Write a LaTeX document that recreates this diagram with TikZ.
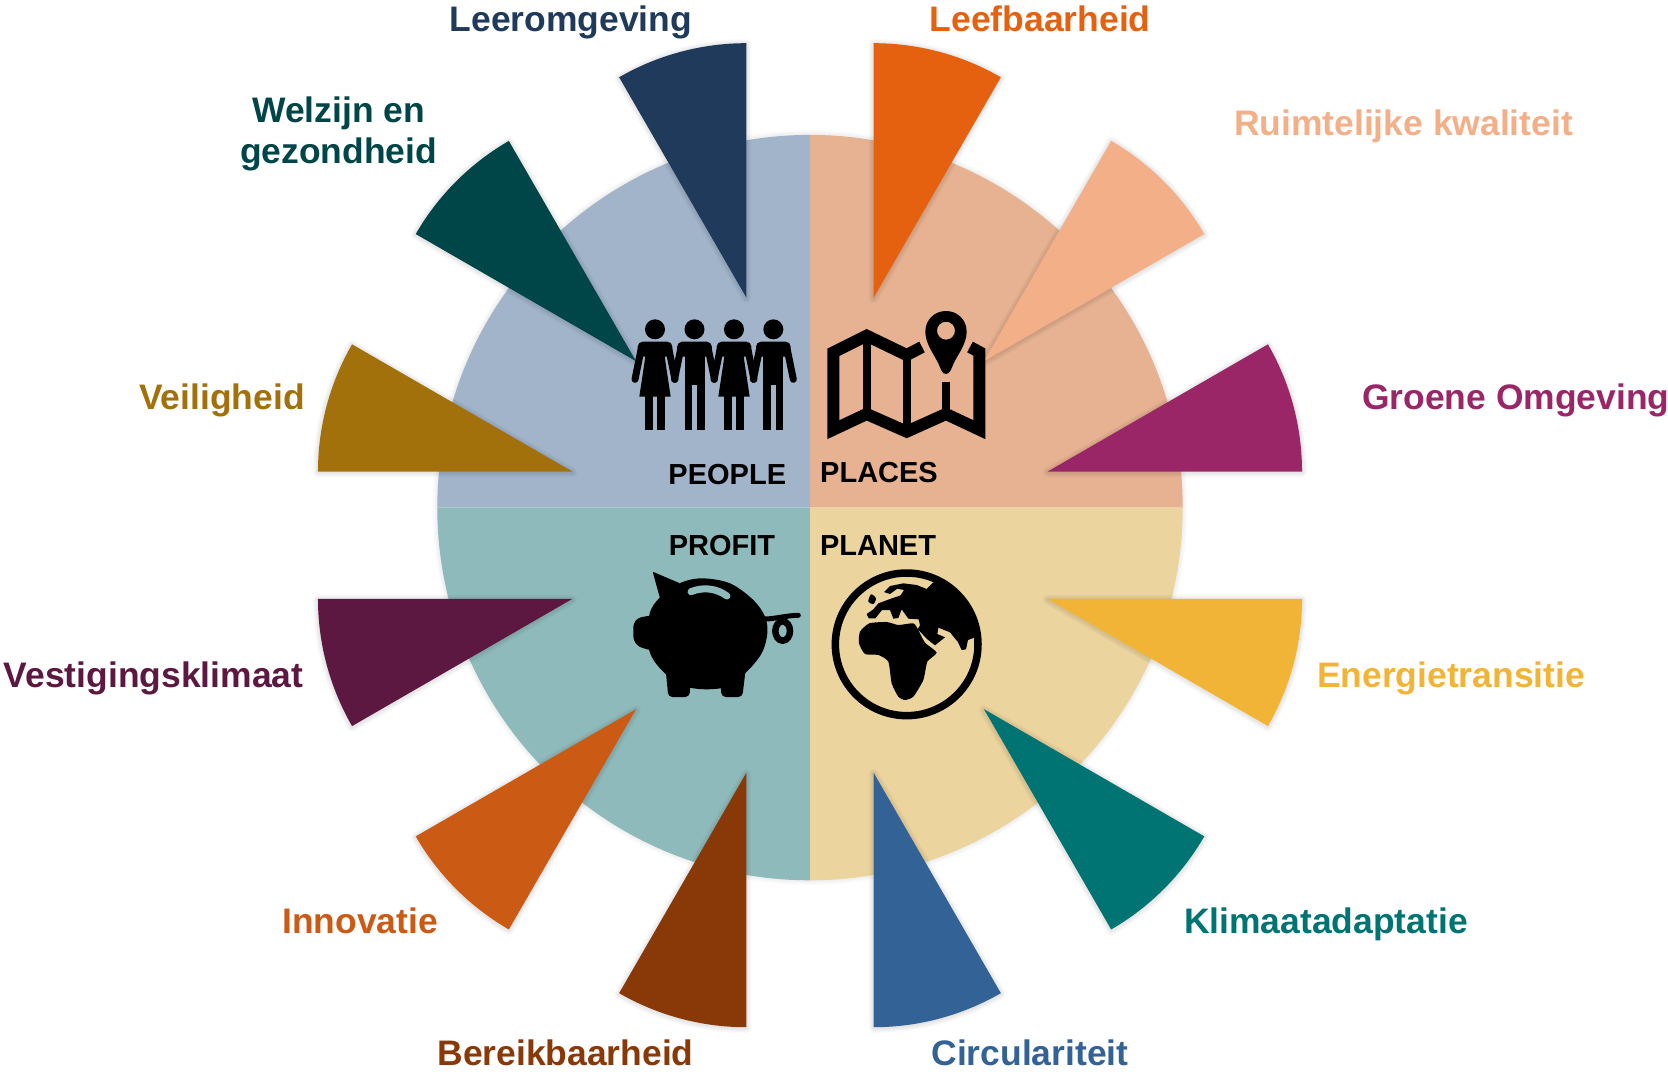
\documentclass[tikz,border=0pt]{standalone}
\usepackage{fontspec}
\setmainfont{Liberation Sans}
\usetikzlibrary{calc}
\definecolor{qpeople}{HTML}{A2B4C9}
\definecolor{qplaces}{HTML}{E6B291}
\definecolor{qprofit}{HTML}{8FBABB}
\definecolor{qplanet}{HTML}{ECD49F}
\definecolor{cLeer}{HTML}{1F3A5A}
\definecolor{cWelz}{HTML}{004547}
\definecolor{cVeil}{HTML}{A3710B}
\definecolor{cVest}{HTML}{5C1840}
\definecolor{cInno}{HTML}{CB5A14}
\definecolor{cBere}{HTML}{893907}
\definecolor{cCirc}{HTML}{336296}
\definecolor{cKlim}{HTML}{007373}
\definecolor{cEner}{HTML}{F2B436}
\definecolor{cGroe}{HTML}{9A2668}
\definecolor{cRuim}{HTML}{F3B088}
\definecolor{cLeef}{HTML}{E5610F}
\tikzset{
  lab/.style={anchor=base,inner sep=0pt,font=\bfseries\fontsize{35.45}{40.4}\selectfont},
  qlab/.style={anchor=base,inner sep=0pt,font=\bfseries\fontsize{29}{32}\selectfont,text=black},
  limb/.style={line width=7pt,line cap=round,black},
}
\newcommand{\sector}[2]{%
  \foreach \w in {10,8,6,4,2}{%
    \draw[line width=\w pt,black,opacity=.02,line join=round]
      ($(G)+(#1:246)+(0,-.8)$) -- ++(#1-15:254.4) arc[start angle=#1-15,end angle=#1+15,radius=254.4] -- cycle;}
  \fill[#2] ($(G)+(#1:246)$) -- ++(#1-15:254.4) arc[start angle=#1-15,end angle=#1+15,radius=254.4] -- cycle;}
\newcommand{\figarms}{%
  \fill (0,88) circle[radius=30];
  \draw[limb] (-42,150) -- (-60,238);
  \draw[limb] (42,150) -- (60,238);
  \fill[rounded corners=5pt] (-52,125) rectangle (52,170);}
\newcommand{\manfig}{\figarms
  \fill (-30,130) rectangle (30,255);
  \fill (-30,250) rectangle (-7,391);
  \fill (7,250) rectangle (30,391);}
\newcommand{\womanfig}{\figarms
  \fill (-26,150) -- (-47,290) -- (47,290) -- (26,150) -- cycle;
  \fill (-30,285) rectangle (-6,391);
  \fill (6,285) rectangle (30,391);}
\begin{document}
\begin{tikzpicture}[x=1pt,y=1pt]
\useasboundingbox (0,0) rectangle (1668,-1071);
\coordinate (C) at (810,-507.6);
\coordinate (G) at (810,-535.2);
% glow of the disc
\foreach \w in {9,6,3}{\draw[line width=\w pt,black,opacity=.018] (C) circle[radius=372.7];}
% quadrants
\fill[qplaces] (C) -- ++(0,372.7) arc[start angle=90,end angle=0,radius=372.7] -- cycle;
\fill[qpeople] (C) -- ++(0,372.7) arc[start angle=90,end angle=180,radius=372.7] -- cycle;
\fill[qprofit] (C) -- ++(-372.7,0) arc[start angle=180,end angle=270,radius=372.7] -- cycle;
\fill[qplanet] (C) -- ++(0,-372.7) arc[start angle=270,end angle=360,radius=372.7] -- cycle;
% sectors
\sector{105}{cLeer}
\sector{135}{cWelz}
\sector{165}{cVeil}
\sector{195}{cVest}
\sector{225}{cInno}
\sector{255}{cBere}
\sector{285}{cCirc}
\sector{315}{cKlim}
\sector{345}{cEner}
\sector{15}{cGroe}
\sector{45}{cRuim}
\sector{75}{cLeef}
% people icon
\begin{scope}[shift={(610pt,-300pt)},x=.33333pt,y=-.33333pt]
  \begin{scope}[shift={(135,0)}]\womanfig\end{scope}
  \begin{scope}[shift={(253.5,0)}]\manfig\end{scope}
  \begin{scope}[shift={(372,0)}]\womanfig\end{scope}
  \begin{scope}[shift={(490,0)}]\manfig\end{scope}
\end{scope}
% map icon
\begin{scope}[shift={(810pt,-300pt)},x=.33333pt,y=-.33333pt]
  \draw[line width=12pt,miter limit=10,line join=miter]
    (336,141) -- (290,165) -- (170,107) -- (70,157) -- (70,389) -- (170,342) -- (290,395) -- (408,342) -- (508,389) -- (508,156) -- (480,141);
  \draw[line width=8pt] (170,107) -- (170,342) (290,165) -- (290,395) (408,247) -- (408,342);
  \fill[even odd rule] (408,222) .. controls (395,222) and (392,205) .. (385,190)
     .. controls (370,160) and (346,130) .. (346,95)
     .. controls (346,58) and (375,33) .. (408,33)
     .. controls (441,33) and (470,58) .. (470,95)
     .. controls (470,130) and (446,160) .. (431,190)
     .. controls (424,205) and (421,222) .. (408,222) -- cycle
     (408,92) circle[radius=27];
\end{scope}
% piggy icon
\begin{scope}[shift={(610pt,-520pt)},x=.33333pt,y=-.33333pt]
  \fill plot[smooth cycle,tension=.55] coordinates {(118,285) (150,232) (208,190) (275,175) (360,190) (430,240) (465,290) (472,340) (455,400) (405,460) (340,503) (240,503) (165,460) (118,392)};
  \fill[rounded corners=3.5pt] (125,286) -- (85,293) -- (70,310) -- (70,360) -- (85,380) -- (125,392) -- cycle;
  \fill[rounded corners=1pt] (128,155) -- (210,190) -- (150,235) -- cycle;
  \fill[rounded corners=4pt] (166,440) -- (175,531) -- (238,531) -- (243,480) -- cycle;
  \fill[rounded corners=4pt] (330,480) -- (335,531) -- (397,531) -- (408,440) -- cycle;
  \draw[qprofit,line width=7pt,line cap=round] (243,215) .. controls (280,200) and (320,205) .. (351,228);
  \draw[line width=5pt,line cap=round] (460,297) .. controls (490,298) and (530,286) .. (565,286);
  \draw[line width=6.5pt] (518,333) ellipse[x radius=22,y radius=29];
\end{scope}
% globe icon
\begin{scope}[shift={(810pt,-520pt)},x=.33333pt,y=-.33333pt]
  \draw[line width=7.5pt] (290,373) circle[radius=214];
  \fill (370,187) -- (410,195) -- (470,250) -- (500,300) -- (495,352) -- (474,360) -- (468,388) -- (455,390) -- (443,365) -- (420,337) -- (385,323) -- (382,342) -- (405,352) -- (375,376) -- (352,358) -- (335,340) -- (323,328) -- (330,316) -- (326,298) -- (295,296) -- (275,268) -- (265,294) -- (250,296) -- (240,270) -- (216,270) -- (196,295) -- (176,295) -- (170,282) -- (190,268) -- (205,250) -- (240,237) -- (272,226) -- (282,210) -- (262,206) -- (240,222) -- (222,216) -- (240,198) -- (280,190) -- (320,195) -- (350,207) -- cycle;
  \fill plot[smooth cycle,tension=.35] coordinates {(150,335) (178,310) (230,306) (265,315) (310,310) (325,330) (345,368) (380,398) (352,425) (340,480) (310,530) (285,540) (265,530) (245,490) (235,425) (205,405) (165,402) (147,370)};
  \fill plot[smooth cycle,tension=.5] coordinates {(183,223) (198,235) (190,252) (175,245)};
\end{scope}
% labels
\node[lab,text=cLeer] (tLeer) at (571,-31.4) {Leeromgeving};
\node[lab,text=cLeef] (tLeef) at (1040.2,-31.4) {Leefbaarheid};
\node[lab,text=cWelz,align=center] (tWelz) at (338.6,-163.3) {Welzijn en\\gezondheid};
\node[lab,text=cRuim] (tRuim) at (1403.5,-135.6) {Ruimtelijke kwaliteit};
\node[lab,text=cVeil] (tVeil) at (222,-409) {Veiligheid};
\node[lab,text=cGroe] (tGroe) at (1515.8,-409) {Groene Omgeving};
\node[lab,text=cVest] (tVest) at (153.5,-687.7) {Vestigingsklimaat};
\node[lab,text=cEner] (tEner) at (1451,-687.7) {Energietransitie};
\node[lab,text=cInno] (tInno) at (360,-933.5) {Innovatie};
\node[lab,text=cKlim] (tKlim) at (1326,-933.5) {Klimaatadaptatie};
\node[lab,text=cBere] (tBere) at (565.5,-1065.3) {Bereikbaarheid};
\node[lab,text=cCirc] (tCirc) at (1030,-1065.3) {Circulariteit};
\node[qlab] (tPeople) at (727.3,-484) {PEOPLE};
\node[qlab] (tPlaces) at (879,-482.4) {PLACES};
\node[qlab] (tProfit) at (722,-555.7) {PROFIT};
\node[qlab] (tPlanet) at (878,-555.7) {PLANET};
\end{tikzpicture}
\end{document}
